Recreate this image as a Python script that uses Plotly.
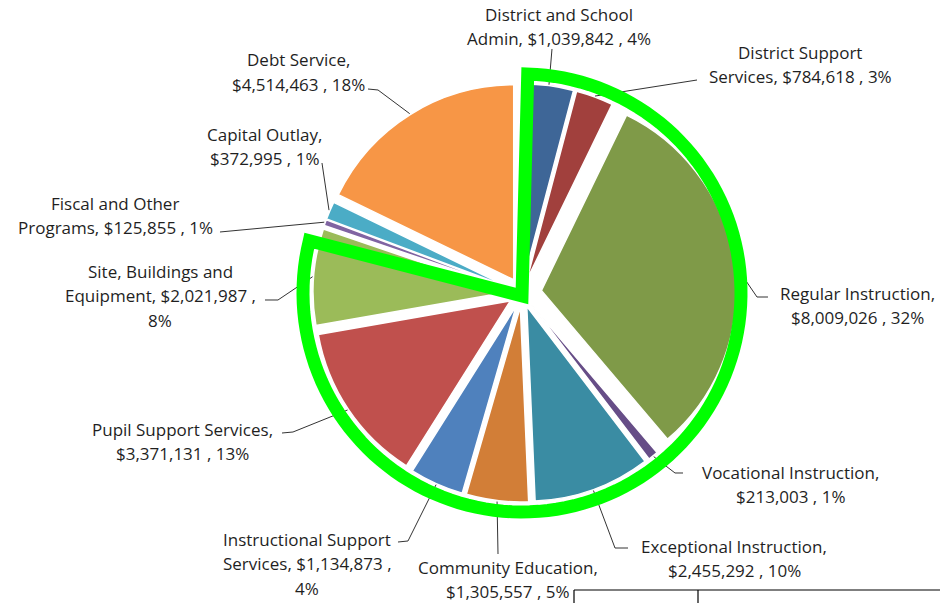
import math
import plotly.graph_objects as go

# ---- data -------------------------------------------------------------
categories = [
    "District and School Admin",
    "District Support Services",
    "Regular Instruction",
    "Vocational Instruction",
    "Exceptional Instruction",
    "Community Education",
    "Instructional Support Services",
    "Pupil Support Services",
    "Site, Buildings and Equipment",
    "Fiscal and Other Programs",
    "Capital Outlay",
    "Debt Service",
]
amounts = [1039842, 784618, 8009026, 213003, 2455292, 1305557,
           1134873, 3371131, 2021987, 125855, 372995, 4514463]
percents = [4, 3, 32, 1, 10, 5, 4, 13, 8, 1, 1, 18]

colors = ["#3E6697", "#A1403D", "#7F9A48", "#664D87", "#3A8CA3", "#D27E37",
          "#4F81BD", "#C0504D", "#9BBB59", "#8064A2", "#4BACC6", "#F79646"]

# ---- page geometry ----------------------------------------------------
W, H = 940, 603
CX, CY = 522, 293          # pie centre (px)
R = 195                    # pie radius (px)
pulls = [0.072, 0.072, 0.10, 0.072, 0.072, 0.072,
         0.072, 0.072, 0.072, 0.072, 0.072, 0.08]
max_pull = max(pulls)
box = 2 * R * (1 + max_pull)
LINE_H = 24.5              # label line spacing (px)


def P(x, y):
    """pixel -> paper coordinates"""
    return x / W, 1 - y / H


def polar(theta_deg, rad, cx=CX, cy=CY):
    t = math.radians(theta_deg)
    return cx + rad * math.sin(t), cy - rad * math.cos(t)


total = sum(amounts)
cum = []
acc = 0
for a in amounts:
    start = acc / total * 360
    acc += a
    cum.append((start, acc / total * 360))
mid_angles = [(s + e) / 2 for s, e in cum]

fig = go.Figure()
fig.add_trace(go.Pie(
    labels=categories,
    values=amounts,
    sort=False,
    direction="clockwise",
    rotation=0,
    pull=pulls,
    textinfo="none",
    hoverinfo="label+value+percent",
    marker=dict(colors=colors, line=dict(color="white", width=1.5)),
    domain=dict(x=[(CX - box / 2) / W, (CX + box / 2) / W],
                y=[1 - (CY + box / 2) / H, 1 - (CY - box / 2) / H]),
    showlegend=False,
))

# ---- data labels ------------------------------------------------------
# number of words on each line before a break
breaks = [[3], [2], [2], [2], [2], [2], [2, 5], [3], [3, 6], [3], [2], [2]]
# centre of the first label line (px)
label_pos = [(559, 14), (800, 52), (857, 293), (790, 472), (734, 546),
             (508, 567), (307, 539), (182, 429), (160, 271), (115, 203),
             (264, 134), (298, 60)]
# leader line points on the label side (px); last point lies on the slice
leader_pts = [
    [(552, 49)],
    [(697, 80)],
    [(768, 297), (757, 297)],
    [(683, 473), (675, 473)],
    [(628, 548), (615, 548)],
    [(498, 554)],
    [(398, 542), (408, 541)],
    [(282, 433), (293, 432)],
    [(265, 300), (278, 300)],
    [(220, 232)],
    [(322, 163)],
    [(368, 89), (378, 90)],
]

annotations = []
shapes = []
for i, name in enumerate(categories):
    words = f"{name}, ${amounts[i]:,} , {percents[i]}%".split(" ")
    lines, prev = [], 0
    for b in breaks[i] + [len(words)]:
        lines.append(" ".join(words[prev:b]))
        prev = b
    lx, ly = label_pos[i]
    for k, line in enumerate(lines):
        ax, ay = P(lx, ly + k * LINE_H)
        annotations.append(dict(
            x=ax, y=ay, xref="paper", yref="paper", text=line,
            showarrow=False, xanchor="center", yanchor="middle", align="center",
            font=dict(family="Open Sans", size=17, color="#1f1f1f"),
        ))
    end = polar(mid_angles[i], R * (1 + pulls[i]) + 1)
    pts = leader_pts[i] + [end]
    path = "M " + " L ".join("{:.5f} {:.5f}".format(*P(x, y)) for x, y in pts)
    shapes.append(dict(type="path", xref="paper", yref="paper", path=path,
                       line=dict(color="#333333", width=1)))

# ---- highlight outline around the instruction-related slices ----------
site_end = cum[categories.index("Site, Buildings and Equipment")][1]
g_start, g_end, g_rad = 1.5, site_end - 5, 219
vx, vy = CX, CY + 3
arc = []
steps = 120
for k in range(steps + 1):
    th = g_start + (g_end - g_start) * k / steps
    arc.append(polar(th, g_rad))
pts = [(vx, vy)] + arc
gpath = "M " + " L ".join("{:.5f} {:.5f}".format(*P(x, y)) for x, y in pts) + " Z"
shapes.append(dict(type="path", xref="paper", yref="paper", path=gpath,
                   line=dict(color="#00FF00", width=13)))

# ---- partial table frame at the lower right ---------------------------
for x0, y0, x1, y1 in [(574, 590, 940, 590), (574, 590, 574, 603), (698, 590, 698, 603)]:
    a0, b0 = P(x0, y0)
    a1, b1 = P(x1, y1)
    shapes.append(dict(type="line", xref="paper", yref="paper",
                       x0=a0, y0=b0, x1=a1, y1=b1,
                       line=dict(color="#000000", width=1.2)))

fig.update_layout(
    width=W, height=H,
    margin=dict(l=0, r=0, t=0, b=0),
    paper_bgcolor="white", plot_bgcolor="white",
    annotations=annotations,
    shapes=shapes,
)

fig.write_html("out.html")
